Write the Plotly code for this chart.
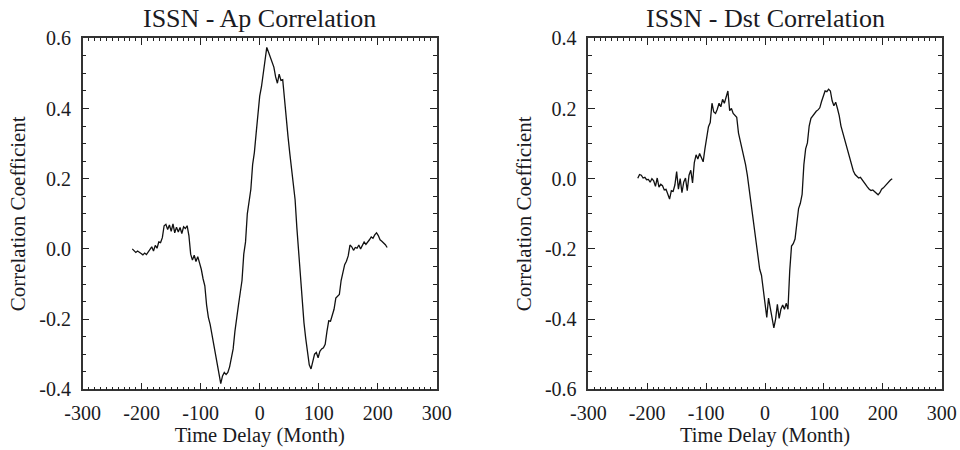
import plotly.graph_objects as go

# ---------------- data ----------------
lag_months = [-216, -213, -210, -207, -204, -201, -198, -195, -192, -189, -186, -183,
              -180, -177, -174, -171, -168, -165, -162, -159, -156, -153, -150, -147,
              -144, -141, -138, -135, -132, -129, -126, -123, -120, -117, -114, -111,
              -108, -105, -102, -99, -96, -93, -90, -87, -84, -81, -78, -75,
              -72, -69, -66, -63, -60, -57, -54, -51, -48, -45, -42, -39,
              -36, -33, -30, -27, -24, -21, -18, -15, -12, -9, -6, -3,
              0, 3, 6, 9, 12, 15, 18, 21, 24, 27, 30, 33,
              36, 39, 42, 45, 48, 51, 54, 57, 60, 63, 66, 69,
              72, 75, 78, 81, 84, 87, 90, 93, 96, 99, 102, 105,
              108, 111, 114, 117, 120, 123, 126, 129, 132, 135, 138, 141,
              144, 147, 150, 153, 156, 159, 162, 165, 168, 171, 174, 177,
              180, 183, 186, 189, 192, 195, 198, 201, 204, 207, 210, 213, 216]

ap_corr = [0.000, -0.004, -0.010, -0.006, -0.011, -0.013, -0.017, -0.012, -0.016, -0.008, -0.002, 0.006,
           -0.006, 0.010, 0.002, 0.020, 0.018, 0.032, 0.066, 0.070, 0.055, 0.068, 0.050, 0.071,
           0.046, 0.062, 0.048, 0.061, 0.044, 0.063, 0.058, 0.066, 0.038, -0.015, -0.032, -0.018,
           -0.036, -0.022, -0.040, -0.058, -0.085, -0.105, -0.160, -0.195, -0.215, -0.242, -0.275, -0.302,
           -0.330, -0.350, -0.384, -0.362, -0.352, -0.358, -0.352, -0.336, -0.315, -0.285, -0.235, -0.190,
           -0.160, -0.125, -0.090, -0.015, 0.020, 0.100, 0.140, 0.170, 0.240, 0.275, 0.330, 0.380,
           0.435, 0.462, 0.500, 0.530, 0.574, 0.560, 0.546, 0.532, 0.518, 0.490, 0.472, 0.498,
           0.480, 0.482, 0.420, 0.365, 0.320, 0.272, 0.230, 0.190, 0.140, 0.060, -0.015, -0.075,
           -0.160, -0.210, -0.255, -0.290, -0.330, -0.342, -0.320, -0.300, -0.295, -0.310, -0.292, -0.285,
           -0.282, -0.272, -0.235, -0.205, -0.206, -0.190, -0.172, -0.140, -0.135, -0.130, -0.090, -0.065,
           -0.045, -0.035, -0.020, 0.011, 0.006, -0.004, 0.004, 0.002, 0.011, 0.000, 0.012, 0.020,
           0.013, 0.018, 0.026, 0.034, 0.030, 0.040, 0.046, 0.038, 0.026, 0.022, 0.018, 0.012, 0.004]

dst_corr = [0.001, 0.012, 0.010, 0.002, 0.004, -0.003, -0.002, -0.010, 0.000, -0.006, -0.022, 0.002,
            -0.024, -0.016, -0.020, -0.032, -0.030, -0.042, -0.058, -0.034, -0.036, -0.018, 0.020, -0.030,
            0.000, -0.040, -0.010, 0.002, -0.034, 0.010, 0.024, -0.012, 0.046, 0.068, 0.056, 0.072,
            0.060, 0.048, 0.085, 0.120, 0.148, 0.160, 0.215, 0.190, 0.186, 0.198, 0.215, 0.205,
            0.226, 0.215, 0.232, 0.250, 0.194, 0.200, 0.186, 0.180, 0.175, 0.130, 0.108, 0.085,
            0.065, 0.040, 0.010, -0.030, -0.070, -0.110, -0.150, -0.180, -0.215, -0.258, -0.275, -0.310,
            -0.350, -0.395, -0.340, -0.372, -0.405, -0.425, -0.400, -0.358, -0.398, -0.372, -0.360, -0.372,
            -0.355, -0.372, -0.262, -0.192, -0.185, -0.172, -0.128, -0.085, -0.070, -0.045, 0.040, 0.085,
            0.102, 0.150, 0.172, 0.180, 0.186, 0.192, 0.196, 0.202, 0.220, 0.236, 0.250, 0.248,
            0.255, 0.250, 0.222, 0.208, 0.218, 0.200, 0.180, 0.150, 0.132, 0.110, 0.100, 0.080,
            0.060, 0.040, 0.022, 0.012, 0.006, 0.002, 0.004, -0.004, -0.010, -0.020, -0.024, -0.030,
            -0.034, -0.032, -0.036, -0.042, -0.046, -0.040, -0.030, -0.026, -0.020, -0.014, -0.010, -0.004, 0.000]

x_ticks = [-300, -200, -100, 0, 100, 200, 300]
ap_yticks = [-0.4, -0.2, 0.0, 0.2, 0.4, 0.6]
dst_yticks = [-0.6, -0.4, -0.2, 0.0, 0.2, 0.4]

titles = ["ISSN - Ap Correlation", "ISSN - Dst Correlation"]
x_title = "Time Delay (Month)"
y_title = "Correlation Coefficient"

# ---------------- figure ----------------
FONT = "Liberation Serif, Times New Roman, serif"
TXT = "#1a1a22"
LINE = "#111111"

fig = go.Figure()
fig.add_trace(go.Scatter(x=lag_months, y=ap_corr, mode="lines",
                         line=dict(color=LINE, width=1.3), xaxis="x", yaxis="y",
                         showlegend=False))
fig.add_trace(go.Scatter(x=lag_months, y=dst_corr, mode="lines",
                         line=dict(color=LINE, width=1.3), xaxis="x2", yaxis="y2",
                         showlegend=False))


def xax(domain, anchor):
    return dict(domain=domain, anchor=anchor, range=[-300, 300], automargin=False,
                tickmode="array", tickvals=x_ticks,
                ticktext=[str(v) for v in x_ticks],
                ticks="inside", ticklen=7, tickwidth=1, tickcolor="#222",
                minor=dict(dtick=10, ticks="inside", ticklen=3, tickwidth=1,
                           tickcolor="#222", showgrid=False),
                showline=True, linecolor="#333", linewidth=1.5, mirror="ticks",
                showgrid=False, zeroline=False,
                tickfont=dict(family=FONT, size=20, color=TXT),
                ticklabelstandoff=5,
                title=dict(text=x_title, font=dict(family=FONT, size=20.5, color=TXT),
                           standoff=2))


def yax(domain, anchor, rng, vals):
    return dict(domain=domain, anchor=anchor, range=rng, automargin=False,
                tickmode="array", tickvals=vals,
                ticktext=["%.1f" % v for v in vals],
                ticks="inside", ticklen=7, tickwidth=1, tickcolor="#222",
                minor=dict(dtick=0.05, ticks="inside", ticklen=4, tickwidth=1,
                           tickcolor="#222", showgrid=False),
                showline=True, linecolor="#333", linewidth=1.5, mirror="ticks",
                showgrid=False, zeroline=False,
                tickfont=dict(family=FONT, size=20, color=TXT),
                ticklabelstandoff=6,
                title=dict(text=y_title, font=dict(family=FONT, size=21, color=TXT),
                           standoff=8))


xd1 = [82.7 / 960, 436.7 / 960]
xd2 = [588.3 / 960, 941.7 / 960]
yd = [(450 - 389.3) / 450, (450 - 38.3) / 450]

fig.update_layout(
    width=960, height=450,
    margin=dict(l=0, r=0, t=0, b=0, autoexpand=False),
    paper_bgcolor="white", plot_bgcolor="white",
    xaxis=xax(xd1, "y"),
    yaxis=yax(yd, "x", [-0.4, 0.6], ap_yticks),
    xaxis2=xax(xd2, "y2"),
    yaxis2=yax(yd, "x2", [-0.6, 0.4], dst_yticks),
    annotations=[
        dict(text=titles[0], x=(xd1[0] + xd1[1]) / 2, y=1 - 18 / 450,
             xref="paper", yref="paper", xanchor="center", yanchor="middle",
             showarrow=False, font=dict(family=FONT, size=26, color=TXT)),
        dict(text=titles[1], x=(xd2[0] + xd2[1]) / 2, y=1 - 18 / 450,
             xref="paper", yref="paper", xanchor="center", yanchor="middle",
             showarrow=False, font=dict(family=FONT, size=26, color=TXT)),
    ],
)

fig.write_html(
    "out.html",
    config={"displayModeBar": False},
    post_script="document.body.style.margin='0';document.body.style.overflow='hidden';",
)
